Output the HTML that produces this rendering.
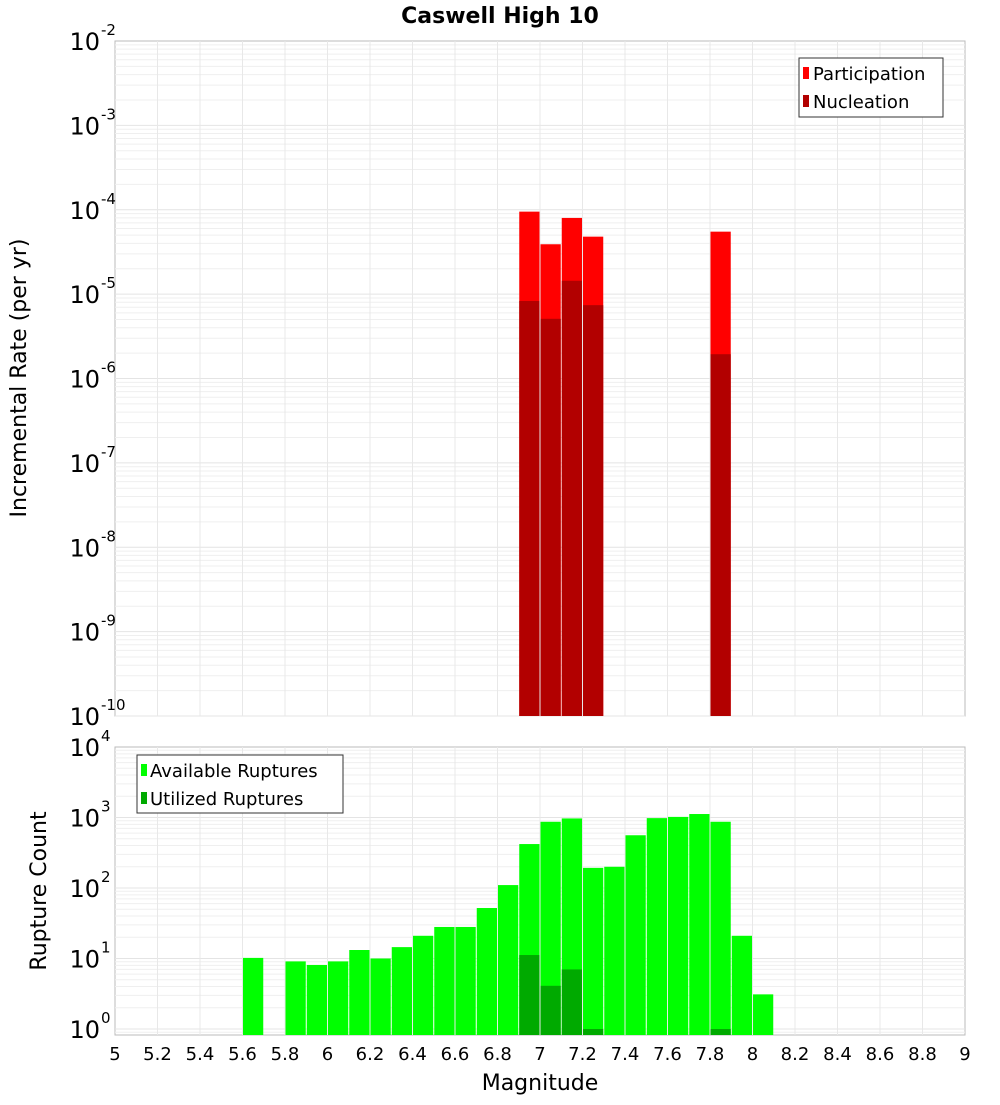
<!DOCTYPE html>
<html><head><meta charset="utf-8"><style>
body{margin:0;background:#fff;font-family:"Liberation Sans","DejaVu Sans",sans-serif}
svg text{font-family:"DejaVu Sans","Liberation Sans",sans-serif}
</style></head><body>
<svg id="c" width="1000" height="1100" xmlns="http://www.w3.org/2000/svg">
<rect width="1000" height="1100" fill="#fff"/>
<text x="500" y="23" text-anchor="middle" font-size="22" font-weight="bold">Caswell High 10</text>
<text transform="translate(26,378) rotate(-90)" text-anchor="middle" font-size="22">Incremental Rate (per yr)</text>
<text transform="translate(46,891) rotate(-90)" text-anchor="middle" font-size="22">Rupture Count</text>
<text x="540" y="1090" text-anchor="middle" font-size="22">Magnitude</text>
<g id="g"></g>
<g>
<rect x="799" y="58" width="144" height="59" fill="#fff" stroke="#333"/>
<rect x="803" y="67" width="6" height="12" fill="#ff0000"/>
<text x="813" y="80" font-size="18">Participation</text>
<rect x="803" y="95" width="6" height="12" fill="#b20000"/>
<text x="813" y="108" font-size="18">Nucleation</text>
</g>
<g>
<rect x="137" y="755" width="206" height="58" fill="#fff" stroke="#333"/>
<rect x="141" y="764" width="6" height="12" fill="#00ff00"/>
<text x="150" y="777" font-size="18">Available Ruptures</text>
<rect x="141" y="792" width="6" height="12" fill="#00aa00"/>
<text x="150" y="805" font-size="18">Utilized Ruptures</text>
</g>
</svg>
<script>
const topMags=[6.95,7.05,7.15,7.25,7.85];
const participation=[9.5e-5,3.9e-5,8e-5,4.8e-5,5.5e-5];
const nucleation=[8.3e-6,5.1e-6,1.44e-5,7.4e-6,1.94e-6];
const botMags=[5.65,5.85,5.95,6.05,6.15,6.25,6.35,6.45,6.55,6.65,6.75,6.85,6.95,7.05,7.15,7.25,7.35,7.45,7.55,7.65,7.75,7.85,7.95,8.05];
const available=[10.2,9.1,8.1,9.1,13.2,10,14.5,21,28,28,52,110,420,870,970,193,200,560,980,1020,1120,870,21,3.1];
const utilMags=[6.95,7.05,7.15,7.25,7.85];
const utilized=[11.2,4.1,7,1,1];
const xTicks=[5,5.2,5.4,5.6,5.8,6,6.2,6.4,6.6,6.8,7,7.2,7.4,7.6,7.8,8,8.2,8.4,8.6,8.8,9];
const topExps=[-2,-3,-4,-5,-6,-7,-8,-9,-10];
const botExps=[4,3,2,1,0];

const NS="http://www.w3.org/2000/svg",g=document.getElementById('g');
function el(t,a){const e=document.createElementNS(NS,t);for(const k in a)e.setAttribute(k,a[k]);g.appendChild(e);return e;}
const L=115,R=965;
const x=m=>L+(m-5)*(R-L)/4;
const T0=41,T1=716,yT=v=>T0+(-2-Math.log10(v))*(T1-T0)/8;
const B0=747,B1=1035,DEC=70.5,yB=v=>Math.min(B1,B0+(4-Math.log10(v))*DEC);
// panels
el('rect',{x:L,y:T0,width:R-L,height:T1-T0,fill:'#fff',stroke:'#bbb'});
el('rect',{x:L,y:B0,width:R-L,height:B1-B0,fill:'#fff',stroke:'#bbb'});
// grids
for(let e=-10;e<-2;e++)for(let k=1;k<10;k++){const yy=yT(k*Math.pow(10,e));const l=el('line',{x1:L,x2:R,y1:yy,y2:yy,stroke:k==1?'#e4e4e4':'#efefef'});}
for(let e=-1;e<4;e++)for(let k=1;k<10;k++){const yy=yB(k*Math.pow(10,e));if(yy>=B1||yy<=B0)continue;const l=el('line',{x1:L,x2:R,y1:yy,y2:yy,stroke:k==1?'#e4e4e4':'#efefef'});}
xTicks.forEach(t=>{const xx=x(t);if(xx<=L||xx>=R)return;
 let l=el('line',{x1:xx,x2:xx,y1:T0,y2:T1,stroke:'#e8e8e8'});
 l=el('line',{x1:xx,x2:xx,y1:B0,y2:B1,stroke:'#e8e8e8'});});
const bw=(R-L)/40;
function bar(m,yy,y0,col,name){const r=el('rect',{x:x(m)-bw/2+0.5,y:yy,width:bw-1,height:y0-yy,fill:col});}
topMags.forEach((m,i)=>bar(m,yT(participation[i]),T1,'#ff0000','participation-bar'));
topMags.forEach((m,i)=>bar(m,yT(nucleation[i]),T1,'#b20000','nucleation-bar'));
botMags.forEach((m,i)=>bar(m,yB(available[i]),B1,'#00ff00','available-bar'));
utilMags.forEach((m,i)=>bar(m,yB(utilized[i]),B1,'#00aa00','utilized-bar'));
// tick labels
function ylab(yy,e,name){const t=el('text',{x:100,y:yy+9,'text-anchor':'end','font-size':24});t.textContent='10';
 const s=el('text',{x:101,y:yy-6,'font-size':15});s.textContent=e;}
topExps.forEach(e=>ylab(yT(Math.pow(10,e)),e,'top-y-tick-label'));
botExps.forEach(e=>ylab(yB(Math.pow(10,e)),e,'bottom-y-tick-label'));
xTicks.forEach(t=>{const tx=el('text',{x:x(t),y:1060,'text-anchor':'middle','font-size':18});tx.textContent=String(t);});
</script>
</body></html>
